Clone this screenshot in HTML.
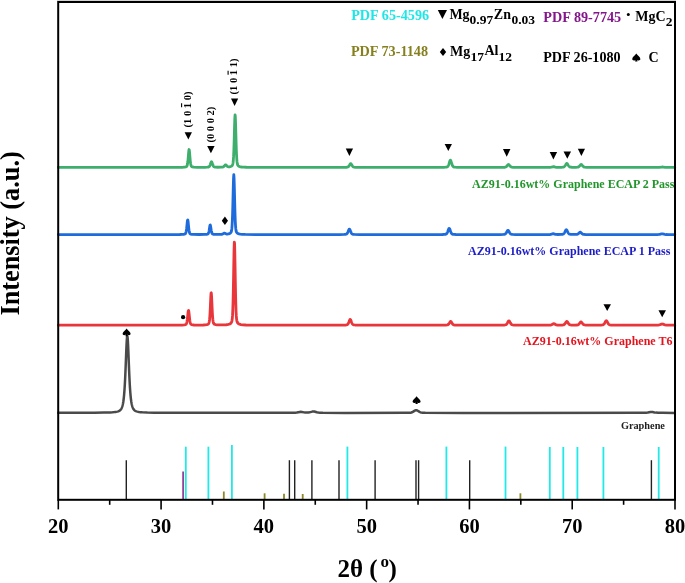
<!DOCTYPE html>
<html><head><meta charset="utf-8"><style>
html,body{margin:0;padding:0;background:#fff;width:685px;height:583px;overflow:hidden}
svg{display:block;will-change:transform}
</style></head><body>
<svg width="685" height="583" viewBox="0 0 685 583">
<g fill="none" stroke-width="2.8" stroke-linejoin="round" stroke-linecap="round">
<path d="M58.30,412.86 L80.55,412.82 L94.55,412.74 L104.05,412.61 L110.30,412.41 L112.55,412.27 L114.55,412.10 L116.05,411.89 L117.30,411.63 L118.30,411.32 L119.30,410.86 L120.05,410.33 L120.55,409.84 L121.05,409.20 L121.30,408.80 L121.55,408.33 L121.80,407.79 L122.05,407.15 L122.30,406.40 L122.55,405.52 L122.80,404.47 L123.05,403.23 L123.30,401.75 L123.55,399.99 L123.80,397.90 L124.05,395.41 L124.30,392.46 L124.55,389.00 L124.80,384.95 L125.05,380.29 L125.30,375.01 L125.55,369.16 L125.80,362.89 L126.05,356.43 L126.30,350.15 L126.55,344.49 L126.80,339.96 L127.05,337.02 L127.30,336.00 L127.55,337.02 L127.80,339.96 L128.05,344.49 L128.30,350.15 L128.55,356.43 L128.80,362.89 L129.05,369.16 L129.30,375.01 L129.55,380.29 L129.80,384.95 L130.05,389.00 L130.30,392.46 L130.55,395.41 L130.80,397.90 L131.05,399.99 L131.30,401.75 L131.55,403.23 L131.80,404.47 L132.05,405.52 L132.30,406.40 L132.55,407.15 L132.80,407.79 L133.05,408.33 L133.30,408.80 L133.80,409.54 L134.30,410.10 L134.80,410.53 L135.30,410.86 L135.80,411.12 L136.55,411.41 L137.30,411.63 L139.05,411.97 L140.55,412.15 L142.30,412.29 L147.30,412.52 L154.55,412.68 L164.80,412.78 L205.30,412.87 L285.55,412.87 L292.05,412.83 L295.05,412.73 L296.80,412.55 L299.80,411.95 L300.80,411.86 L301.80,411.94 L304.05,412.38 L305.05,412.52 L306.30,412.61 L307.55,412.60 L308.55,412.52 L309.55,412.35 L312.30,411.61 L313.30,411.47 L314.30,411.57 L316.80,412.28 L318.30,412.58 L320.05,412.74 L322.80,412.82 L345.30,412.89 L405.80,412.86 L409.55,412.78 L410.55,412.68 L411.30,412.53 L412.05,412.29 L412.80,411.93 L414.80,410.66 L415.30,410.40 L415.80,410.24 L416.30,410.20 L416.80,410.29 L417.30,410.50 L419.55,411.91 L420.05,412.16 L420.80,412.44 L421.55,412.63 L422.55,412.76 L425.30,412.85 L462.30,412.90 L639.05,412.87 L643.80,412.83 L646.05,412.73 L647.80,412.53 L650.55,411.98 L651.55,411.90 L652.55,411.99 L654.55,412.41 L655.80,412.62 L658.05,412.79 L662.55,412.86 L674.80,412.89" stroke="#4a4a4a" stroke-width="2.5"/><path d="M58.30,325.20 L170.05,325.17 L180.05,325.11 L182.55,325.04 L184.05,324.93 L185.05,324.77 L185.55,324.62 L185.80,324.49 L186.05,324.28 L186.30,323.95 L186.55,323.40 L186.80,322.54 L187.05,321.26 L187.30,319.50 L187.55,317.30 L187.80,314.84 L188.05,312.50 L188.30,310.83 L188.55,310.40 L188.80,311.38 L189.05,313.39 L189.55,318.22 L189.80,320.26 L190.05,321.82 L190.30,322.92 L190.55,323.64 L190.80,324.09 L191.05,324.36 L191.55,324.64 L192.55,324.86 L194.05,324.99 L196.05,325.05 L199.80,325.06 L203.30,324.99 L205.30,324.86 L206.80,324.64 L207.80,324.32 L208.30,324.01 L208.55,323.75 L208.80,323.35 L209.05,322.67 L209.30,321.54 L209.55,319.69 L209.80,316.84 L210.05,312.84 L210.30,307.76 L210.55,302.05 L210.80,296.71 L211.05,293.18 L211.30,292.83 L211.55,295.81 L211.80,300.91 L212.05,306.63 L212.30,311.90 L212.55,316.13 L212.80,319.19 L213.05,321.22 L213.30,322.48 L213.55,323.22 L213.80,323.67 L214.05,323.95 L214.55,324.27 L215.05,324.47 L215.55,324.60 L217.05,324.81 L219.55,324.93 L223.30,324.91 L226.30,324.75 L227.30,324.64 L228.30,324.47 L229.05,324.27 L229.80,323.97 L230.55,323.49 L231.05,322.98 L231.30,322.62 L231.55,322.14 L231.80,321.42 L232.05,320.28 L232.30,318.36 L232.55,315.13 L232.80,309.92 L233.05,302.05 L233.30,291.18 L233.55,277.67 L233.80,262.97 L234.05,249.86 L234.30,242.22 L234.55,243.12 L234.80,252.18 L235.05,265.90 L235.30,280.54 L235.55,293.59 L235.80,303.87 L236.05,311.16 L236.30,315.92 L236.55,318.83 L236.80,320.56 L237.05,321.60 L237.30,322.26 L237.55,322.71 L237.80,323.05 L238.05,323.32 L238.55,323.72 L239.05,324.01 L239.55,324.22 L240.80,324.55 L242.80,324.82 L245.80,324.99 L250.05,325.08 L256.80,325.14 L329.55,325.19 L340.30,325.16 L344.80,325.07 L346.05,324.98 L346.80,324.84 L347.30,324.62 L347.55,324.44 L347.80,324.19 L348.05,323.86 L348.30,323.43 L348.55,322.91 L348.80,322.30 L349.55,320.28 L349.80,319.76 L350.05,319.45 L350.30,319.42 L350.55,319.68 L350.80,320.16 L351.05,320.79 L351.55,322.17 L351.80,322.79 L352.05,323.33 L352.30,323.78 L352.55,324.13 L352.80,324.40 L353.05,324.59 L353.55,324.82 L354.30,324.97 L355.55,325.07 L357.80,325.13 L370.80,325.19 L427.05,325.19 L440.80,325.17 L445.80,325.10 L447.30,324.96 L447.80,324.82 L448.30,324.54 L448.55,324.32 L448.80,324.04 L449.05,323.70 L449.30,323.30 L450.05,321.98 L450.30,321.63 L450.55,321.43 L450.80,321.41 L451.05,321.58 L451.30,321.90 L452.30,323.62 L452.55,323.98 L452.80,324.27 L453.05,324.50 L453.30,324.67 L453.80,324.89 L454.80,325.05 L458.30,325.15 L466.55,325.19 L494.30,325.18 L502.80,325.11 L504.30,325.04 L505.05,324.96 L505.80,324.76 L506.30,324.46 L506.55,324.23 L506.80,323.94 L507.05,323.59 L507.30,323.18 L508.05,321.74 L508.30,321.31 L508.55,320.98 L508.80,320.81 L509.05,320.83 L509.30,321.04 L509.55,321.39 L510.30,322.81 L510.80,323.66 L511.05,324.00 L511.55,324.49 L512.05,324.78 L512.55,324.93 L514.05,325.07 L517.80,325.15 L525.30,325.18 L543.55,325.18 L549.55,325.12 L550.55,325.05 L551.30,324.90 L552.05,324.58 L553.30,323.80 L553.80,323.68 L554.30,323.80 L555.80,324.69 L556.30,324.88 L556.80,325.00 L557.55,325.07 L558.80,325.10 L562.30,325.04 L563.05,324.96 L563.55,324.85 L564.05,324.63 L564.30,324.46 L564.80,323.98 L565.05,323.65 L566.05,322.04 L566.30,321.69 L566.55,321.46 L566.80,321.38 L567.05,321.46 L567.30,321.69 L567.55,322.03 L568.55,323.65 L569.05,324.24 L569.30,324.46 L569.80,324.75 L570.30,324.91 L570.80,324.99 L572.55,325.07 L575.30,325.08 L576.80,325.02 L577.80,324.87 L578.30,324.67 L578.80,324.32 L579.30,323.79 L580.30,322.38 L580.55,322.10 L580.80,321.92 L581.05,321.88 L581.30,321.98 L581.55,322.21 L582.80,323.92 L583.30,324.41 L583.80,324.73 L584.55,324.96 L585.80,325.08 L588.55,325.14 L599.30,325.12 L601.30,325.06 L602.30,324.97 L603.05,324.80 L603.55,324.55 L604.05,324.09 L604.30,323.77 L604.55,323.39 L604.80,322.94 L605.55,321.47 L605.80,321.07 L606.05,320.79 L606.30,320.69 L606.55,320.79 L606.80,321.07 L607.05,321.47 L607.80,322.94 L608.05,323.39 L608.30,323.77 L608.55,324.09 L608.80,324.35 L609.30,324.70 L609.80,324.88 L611.05,325.05 L614.30,325.14 L621.30,325.18 L647.80,325.19 L656.55,325.15 L658.05,325.08 L659.05,324.94 L659.80,324.74 L661.55,324.09 L662.30,324.00 L663.05,324.15 L664.30,324.63 L665.05,324.87 L666.30,325.07 L668.55,325.16 L674.80,325.19" stroke="#e8363b"/><path d="M58.30,234.60 L170.80,234.58 L179.80,234.52 L182.05,234.45 L183.55,234.33 L184.55,234.15 L185.05,233.95 L185.30,233.77 L185.55,233.46 L185.80,232.95 L186.05,232.11 L186.30,230.82 L186.55,229.00 L186.80,226.69 L187.05,224.10 L187.30,221.68 L187.55,220.08 L187.80,219.91 L188.05,221.27 L188.30,223.58 L188.55,226.18 L188.80,228.57 L189.05,230.49 L189.30,231.89 L189.55,232.81 L189.80,233.38 L190.05,233.72 L190.30,233.92 L190.80,234.13 L191.80,234.32 L193.30,234.43 L199.05,234.52 L205.05,234.45 L206.55,234.35 L207.55,234.15 L207.80,234.03 L208.05,233.83 L208.30,233.49 L208.55,232.95 L208.80,232.11 L209.05,230.93 L209.30,229.43 L209.55,227.76 L209.80,226.18 L210.05,225.14 L210.30,225.04 L210.55,225.91 L210.80,227.42 L211.05,229.10 L211.30,230.65 L211.55,231.90 L211.80,232.80 L212.05,233.40 L212.30,233.76 L212.55,233.98 L212.80,234.11 L213.30,234.25 L213.80,234.32 L215.55,234.43 L218.80,234.45 L221.30,234.37 L222.05,234.26 L222.55,234.10 L223.05,233.84 L223.80,233.37 L224.30,233.18 L224.55,233.17 L224.80,233.24 L226.05,233.86 L226.80,234.04 L227.30,234.05 L228.05,233.98 L228.80,233.82 L229.30,233.66 L230.05,233.30 L230.55,232.91 L230.80,232.62 L231.05,232.22 L231.30,231.61 L231.55,230.60 L231.80,228.91 L232.05,226.09 L232.30,221.64 L232.55,215.15 L232.80,206.53 L233.05,196.33 L233.30,185.95 L233.55,177.77 L233.80,174.58 L234.05,177.77 L234.30,185.95 L234.55,196.33 L234.80,206.53 L235.05,215.15 L235.30,221.65 L235.55,226.10 L235.80,228.91 L236.05,230.61 L236.30,231.62 L236.55,232.23 L236.80,232.64 L237.05,232.92 L237.30,233.15 L238.05,233.59 L239.05,233.92 L240.30,234.15 L242.30,234.33 L245.30,234.45 L257.05,234.56 L330.05,234.59 L339.80,234.56 L344.05,234.47 L345.30,234.39 L346.05,234.24 L346.55,234.02 L346.80,233.84 L347.05,233.59 L347.30,233.25 L347.55,232.83 L347.80,232.32 L348.80,229.82 L349.05,229.36 L349.30,229.12 L349.55,229.15 L349.80,229.44 L350.05,229.94 L350.80,231.85 L351.05,232.43 L351.30,232.92 L351.55,233.33 L351.80,233.64 L352.05,233.88 L352.30,234.05 L352.80,234.26 L353.30,234.36 L354.30,234.45 L359.30,234.56 L372.55,234.59 L430.05,234.59 L442.55,234.50 L444.30,234.43 L445.30,234.33 L446.05,234.11 L446.55,233.77 L446.80,233.50 L447.05,233.14 L447.30,232.68 L447.55,232.11 L447.80,231.45 L448.55,229.26 L448.80,228.69 L449.05,228.36 L449.30,228.32 L449.55,228.60 L449.80,229.13 L450.05,229.81 L450.55,231.31 L450.80,231.99 L451.05,232.57 L451.30,233.06 L451.55,233.44 L451.80,233.73 L452.05,233.94 L452.30,234.09 L453.05,234.32 L454.05,234.43 L455.80,234.50 L464.55,234.58 L491.55,234.58 L500.05,234.54 L503.55,234.44 L504.30,234.34 L504.80,234.21 L505.30,233.95 L505.55,233.75 L505.80,233.49 L506.05,233.17 L506.30,232.79 L507.30,230.96 L507.55,230.59 L507.80,230.36 L508.05,230.30 L508.30,230.43 L508.55,230.72 L508.80,231.13 L509.55,232.54 L509.80,232.95 L510.05,233.31 L510.30,233.60 L510.55,233.83 L510.80,234.01 L511.30,234.24 L511.80,234.36 L512.55,234.44 L515.30,234.54 L521.05,234.58 L548.80,234.55 L550.05,234.49 L550.80,234.39 L551.55,234.18 L552.80,233.72 L553.30,233.68 L553.80,233.78 L555.30,234.31 L556.05,234.44 L557.80,234.51 L561.05,234.45 L562.05,234.38 L562.80,234.25 L563.30,234.04 L563.80,233.67 L564.05,233.39 L564.30,233.04 L564.55,232.62 L564.80,232.14 L565.55,230.53 L565.80,230.09 L566.05,229.79 L566.30,229.68 L566.55,229.79 L566.80,230.09 L567.05,230.53 L567.80,232.13 L568.05,232.62 L568.30,233.04 L568.55,233.38 L568.80,233.66 L569.30,234.04 L569.80,234.24 L570.55,234.37 L571.55,234.44 L575.55,234.47 L576.55,234.41 L577.30,234.27 L577.80,234.07 L578.30,233.74 L578.80,233.27 L579.55,232.50 L579.80,232.31 L580.05,232.20 L580.30,232.19 L580.55,232.28 L580.80,232.46 L582.05,233.71 L582.30,233.90 L582.80,234.18 L583.30,234.34 L583.80,234.43 L585.30,234.52 L599.30,234.59 L655.80,234.58 L657.55,234.54 L658.80,234.45 L659.80,234.29 L661.30,233.96 L662.05,233.90 L662.80,233.98 L664.80,234.40 L666.05,234.52 L668.30,234.58 L674.80,234.59" stroke="#1e6bdc"/><path d="M58.30,167.40 L171.80,167.37 L181.05,167.30 L183.30,167.23 L184.80,167.10 L185.80,166.91 L186.30,166.71 L186.55,166.54 L186.80,166.27 L187.05,165.82 L187.30,165.06 L187.55,163.84 L187.80,162.03 L188.05,159.58 L188.30,156.60 L188.55,153.47 L188.80,150.83 L189.05,149.52 L189.30,150.10 L189.55,152.31 L189.80,155.34 L190.05,158.43 L190.30,161.12 L190.55,163.19 L190.80,164.63 L191.05,165.55 L191.30,166.12 L191.55,166.45 L191.80,166.65 L192.05,166.78 L192.80,166.99 L193.80,167.13 L197.05,167.28 L201.05,167.32 L205.05,167.29 L207.05,167.22 L208.30,167.09 L208.80,166.92 L209.05,166.77 L209.30,166.55 L209.55,166.23 L209.80,165.80 L210.05,165.23 L210.30,164.55 L210.80,163.02 L211.05,162.33 L211.30,161.87 L211.55,161.76 L211.80,162.02 L212.05,162.58 L212.80,164.83 L213.05,165.47 L213.30,165.98 L213.55,166.36 L213.80,166.64 L214.05,166.83 L214.55,167.04 L215.55,167.17 L217.80,167.25 L221.05,167.22 L222.55,167.10 L223.30,166.87 L223.80,166.55 L224.30,166.04 L225.05,165.13 L225.30,164.91 L225.55,164.80 L225.80,164.84 L226.05,165.00 L227.05,166.10 L227.30,166.33 L227.55,166.51 L228.05,166.74 L228.55,166.83 L229.05,166.83 L229.80,166.74 L230.55,166.56 L231.30,166.26 L231.80,165.93 L232.05,165.70 L232.30,165.37 L232.55,164.88 L232.80,164.09 L233.05,162.75 L233.30,160.50 L233.55,156.92 L233.80,151.59 L234.05,144.38 L234.30,135.63 L234.55,126.41 L234.80,118.64 L235.05,114.79 L235.30,116.50 L235.55,122.99 L235.80,131.91 L236.05,141.03 L236.30,148.94 L236.55,155.03 L236.80,159.27 L237.05,162.00 L237.30,163.65 L237.55,164.63 L237.80,165.22 L238.05,165.61 L238.30,165.88 L238.55,166.08 L239.30,166.49 L240.30,166.79 L241.55,167.00 L243.55,167.16 L246.55,167.27 L257.80,167.36 L330.30,167.39 L340.80,167.37 L345.30,167.31 L346.55,167.26 L347.30,167.16 L347.80,167.02 L348.30,166.74 L348.55,166.52 L348.80,166.24 L349.05,165.90 L349.30,165.50 L350.05,164.18 L350.30,163.83 L350.55,163.63 L350.80,163.61 L351.05,163.78 L351.30,164.10 L352.30,165.82 L352.55,166.18 L352.80,166.47 L353.05,166.70 L353.55,167.00 L354.05,167.15 L355.55,167.29 L358.55,167.36 L364.05,167.38 L403.55,167.40 L435.05,167.38 L443.80,167.29 L445.55,167.20 L446.55,167.08 L447.05,166.94 L447.30,166.81 L447.55,166.64 L447.80,166.40 L448.05,166.07 L448.30,165.64 L448.55,165.09 L448.80,164.41 L449.05,163.64 L449.55,161.93 L449.80,161.15 L450.05,160.54 L450.30,160.23 L450.55,160.26 L450.80,160.65 L451.05,161.29 L451.80,163.80 L452.05,164.56 L452.30,165.21 L452.55,165.74 L452.80,166.15 L453.05,166.46 L453.30,166.68 L453.55,166.84 L454.30,167.09 L455.30,167.21 L457.05,167.29 L464.05,167.37 L483.80,167.39 L499.05,167.37 L504.05,167.29 L504.80,167.23 L505.30,167.13 L505.80,166.96 L506.05,166.82 L506.30,166.65 L506.80,166.18 L507.80,164.94 L508.05,164.69 L508.30,164.54 L508.55,164.50 L508.80,164.59 L509.05,164.78 L510.30,166.29 L510.55,166.53 L511.05,166.88 L511.80,167.16 L513.05,167.29 L516.05,167.36 L521.80,167.38 L549.05,167.36 L550.30,167.31 L551.05,167.23 L551.80,167.06 L552.80,166.76 L553.30,166.68 L553.80,166.71 L555.30,167.13 L556.30,167.28 L558.30,167.33 L561.55,167.28 L562.55,167.22 L563.30,167.11 L563.80,166.94 L564.30,166.64 L564.80,166.12 L565.05,165.78 L565.30,165.39 L566.05,164.08 L566.30,163.72 L566.55,163.47 L566.80,163.38 L567.05,163.47 L567.30,163.72 L567.55,164.08 L568.30,165.38 L568.55,165.78 L568.80,166.12 L569.30,166.63 L569.80,166.94 L570.30,167.10 L570.80,167.18 L571.80,167.26 L576.05,167.28 L577.30,167.22 L578.05,167.10 L578.55,166.91 L579.05,166.59 L579.55,166.10 L580.55,164.87 L580.80,164.64 L581.05,164.51 L581.30,164.49 L581.55,164.61 L581.80,164.82 L583.05,166.33 L583.30,166.56 L583.80,166.90 L584.30,167.10 L584.80,167.20 L586.30,167.31 L590.05,167.36 L598.30,167.39 L656.05,167.39 L659.05,167.33 L661.80,167.04 L662.55,167.00 L663.30,167.05 L665.30,167.28 L666.55,167.36 L674.80,167.40" stroke="#3dae6c"/>
</g>
<g><line x1="185.8" y1="446.7" x2="185.8" y2="499.5" stroke="#22e8e8" stroke-width="1.8"/><line x1="208.4" y1="446.7" x2="208.4" y2="499.5" stroke="#22e8e8" stroke-width="1.8"/><line x1="231.9" y1="445.0" x2="231.9" y2="499.5" stroke="#22e8e8" stroke-width="1.8"/><line x1="347.4" y1="446.6" x2="347.4" y2="499.5" stroke="#22e8e8" stroke-width="1.8"/><line x1="446.4" y1="446.6" x2="446.4" y2="499.5" stroke="#22e8e8" stroke-width="1.8"/><line x1="505.5" y1="446.6" x2="505.5" y2="499.5" stroke="#22e8e8" stroke-width="1.8"/><line x1="549.8" y1="447.0" x2="549.8" y2="499.5" stroke="#22e8e8" stroke-width="1.8"/><line x1="563.3" y1="447.0" x2="563.3" y2="499.5" stroke="#22e8e8" stroke-width="1.8"/><line x1="577.4" y1="447.0" x2="577.4" y2="499.5" stroke="#22e8e8" stroke-width="1.8"/><line x1="603.4" y1="447.0" x2="603.4" y2="499.5" stroke="#22e8e8" stroke-width="1.8"/><line x1="658.7" y1="447.0" x2="658.7" y2="499.5" stroke="#22e8e8" stroke-width="1.8"/><line x1="223.8" y1="491.5" x2="223.8" y2="499.5" stroke="#8e8628" stroke-width="1.8"/><line x1="264.6" y1="493.3" x2="264.6" y2="499.5" stroke="#8e8628" stroke-width="1.8"/><line x1="284.0" y1="493.7" x2="284.0" y2="499.5" stroke="#8e8628" stroke-width="1.8"/><line x1="302.7" y1="494.0" x2="302.7" y2="499.5" stroke="#8e8628" stroke-width="1.8"/><line x1="520.4" y1="493.3" x2="520.4" y2="499.5" stroke="#8e8628" stroke-width="1.8"/><line x1="183.1" y1="471.5" x2="183.1" y2="499.5" stroke="#8a2a8e" stroke-width="1.6"/><line x1="126.3" y1="460.2" x2="126.3" y2="499.5" stroke="#222222" stroke-width="1.4"/><line x1="289.4" y1="460.2" x2="289.4" y2="499.5" stroke="#222222" stroke-width="1.4"/><line x1="294.7" y1="460.2" x2="294.7" y2="499.5" stroke="#222222" stroke-width="1.4"/><line x1="311.9" y1="460.2" x2="311.9" y2="499.5" stroke="#222222" stroke-width="1.4"/><line x1="339.0" y1="460.2" x2="339.0" y2="499.5" stroke="#222222" stroke-width="1.4"/><line x1="375.1" y1="460.2" x2="375.1" y2="499.5" stroke="#222222" stroke-width="1.4"/><line x1="416.0" y1="460.2" x2="416.0" y2="499.5" stroke="#222222" stroke-width="1.4"/><line x1="418.6" y1="460.2" x2="418.6" y2="499.5" stroke="#222222" stroke-width="1.4"/><line x1="469.7" y1="460.2" x2="469.7" y2="499.5" stroke="#222222" stroke-width="1.4"/><line x1="651.4" y1="460.2" x2="651.4" y2="499.5" stroke="#222222" stroke-width="1.4"/></g>
<g fill="#000"><polygon points="184.65,132.30 191.95,132.30 188.30,139.50"/><polygon points="207.20,146.10 214.60,146.10 210.90,153.30"/><polygon points="231.00,98.40 238.20,98.40 234.60,106.00"/><polygon points="345.75,148.50 353.05,148.50 349.40,156.10"/><polygon points="444.65,143.90 451.95,143.90 448.30,150.90"/><polygon points="502.95,149.10 510.45,149.10 506.70,156.70"/><polygon points="549.70,151.90 557.10,151.90 553.40,159.40"/><polygon points="563.55,151.40 571.05,151.40 567.30,158.80"/><polygon points="577.80,148.70 585.00,148.70 581.40,155.90"/><polygon points="603.45,304.30 610.95,304.30 607.20,311.10"/><polygon points="658.45,310.20 665.95,310.20 662.20,317.20"/><polygon points="437.80,10.10 447.00,10.10 442.40,19.10"/><path transform="translate(126.60,328.40) scale(1.000)" d="M0,0 C-1.4,2.1 -4,3.4 -4,5.3 C-4,6.8 -2.2,7.2 -0.8,6.2 L-1.2,7.8 L1.2,7.8 L0.8,6.2 C2.2,7.2 4,6.8 4,5.3 C4,3.4 1.4,2.1 0,0 Z"/><path transform="translate(416.60,396.20) scale(1.000)" d="M0,0 C-1.4,2.1 -4,3.4 -4,5.3 C-4,6.8 -2.2,7.2 -0.8,6.2 L-1.2,7.8 L1.2,7.8 L0.8,6.2 C2.2,7.2 4,6.8 4,5.3 C4,3.4 1.4,2.1 0,0 Z"/><path transform="translate(636.30,53.60) scale(1.013)" d="M0,0 C-1.4,2.1 -4,3.4 -4,5.3 C-4,6.8 -2.2,7.2 -0.8,6.2 L-1.2,7.8 L1.2,7.8 L0.8,6.2 C2.2,7.2 4,6.8 4,5.3 C4,3.4 1.4,2.1 0,0 Z"/><polygon points="224.9,216.6 228.0,220.8 224.9,225.0 221.8,220.8"/><polygon points="443.0,48.1 446.2,52.0 443.0,55.9 439.8,52.0"/><circle cx="183.1" cy="317.2" r="2.1"/><circle cx="628.3" cy="14.6" r="1.5"/></g>
<g><line x1="58.30" y1="499.8" x2="58.30" y2="509.40000000000003" stroke="#000" stroke-width="1.6"/><line x1="109.69" y1="499.8" x2="109.69" y2="504.8" stroke="#000" stroke-width="1.6"/><line x1="161.08" y1="499.8" x2="161.08" y2="509.40000000000003" stroke="#000" stroke-width="1.6"/><line x1="212.48" y1="499.8" x2="212.48" y2="504.8" stroke="#000" stroke-width="1.6"/><line x1="263.87" y1="499.8" x2="263.87" y2="509.40000000000003" stroke="#000" stroke-width="1.6"/><line x1="315.26" y1="499.8" x2="315.26" y2="504.8" stroke="#000" stroke-width="1.6"/><line x1="366.65" y1="499.8" x2="366.65" y2="509.40000000000003" stroke="#000" stroke-width="1.6"/><line x1="418.04" y1="499.8" x2="418.04" y2="504.8" stroke="#000" stroke-width="1.6"/><line x1="469.43" y1="499.8" x2="469.43" y2="509.40000000000003" stroke="#000" stroke-width="1.6"/><line x1="520.83" y1="499.8" x2="520.83" y2="504.8" stroke="#000" stroke-width="1.6"/><line x1="572.22" y1="499.8" x2="572.22" y2="509.40000000000003" stroke="#000" stroke-width="1.6"/><line x1="623.61" y1="499.8" x2="623.61" y2="504.8" stroke="#000" stroke-width="1.6"/><line x1="675.00" y1="499.8" x2="675.00" y2="509.40000000000003" stroke="#000" stroke-width="1.6"/></g>
<rect x="57" y="0" width="619" height="1" fill="#d4d4d4"/>
<rect x="58.2" y="2.0" width="616.8" height="497.8" fill="none" stroke="#000" stroke-width="2"/>
<g font-family="Liberation Serif" font-weight="bold" fill="#000">
<text x="58.30" y="532.6" text-anchor="middle" font-size="20.5">20</text><text x="161.08" y="532.6" text-anchor="middle" font-size="20.5">30</text><text x="263.87" y="532.6" text-anchor="middle" font-size="20.5">40</text><text x="366.65" y="532.6" text-anchor="middle" font-size="20.5">50</text><text x="469.43" y="532.6" text-anchor="middle" font-size="20.5">60</text><text x="572.22" y="532.6" text-anchor="middle" font-size="20.5">70</text><text x="675.00" y="532.6" text-anchor="middle" font-size="20.5">80</text>
<text x="337.5" y="576.5" font-size="25">2θ (<tspan x="380.4" y="566.8" font-size="17">o</tspan><tspan x="388.4" y="576.5">)</tspan></text>
<text transform="translate(19.3,315.6) rotate(-90)" font-size="26.3">Intensity (a.u.)</text>
<text transform="translate(191.2,127.4) rotate(-90)" font-size="10.5">(1 0 1 0)</text>
<line x1="181.6" y1="103.2" x2="181.6" y2="107.2" stroke="#000" stroke-width="1.1"/>
<text transform="translate(214.4,142.6) rotate(-90)" font-size="10.5">(0 0 0 2)</text>
<text transform="translate(237.4,94.4) rotate(-90)" font-size="10.5">(1 0 1 1)</text>
<line x1="228.1" y1="70.8" x2="228.1" y2="74.8" stroke="#000" stroke-width="1.1"/>
<text x="472" y="187.8" font-size="12" fill="#21962a">AZ91-0.16wt% Graphene ECAP 2 Pass</text>
<text x="468" y="255" font-size="12" fill="#1c1cc8">AZ91-0.16wt% Graphene ECAP 1 Pass</text>
<text x="523" y="344.5" font-size="12" fill="#e3141e">AZ91-0.16wt% Graphene T6</text>
<text x="620.9" y="429" font-size="10.3" fill="#222">Graphene</text>
<text x="351.2" y="19.5" font-size="14.2" fill="#1ee6e6">PDF 65-4596</text>
<text x="543.3" y="21.6" font-size="14.2" fill="#84168a">PDF 89-7745</text>
<text x="350.9" y="56.2" font-size="14.2" fill="#867f1e">PDF 73-1148</text>
<text x="543.2" y="62" font-size="14.1">PDF 26-1080</text>
<text x="648.5" y="62" font-size="14">C</text>
<text x="449.4" y="19.1" font-size="14">Mg<tspan x="469.6" y="24.4" font-size="13.5">0.97</tspan><tspan x="493.8" y="18.5" font-size="14">Zn</tspan><tspan x="511.4" y="24.4" font-size="13.5">0.03</tspan></text>
<text x="635.2" y="21" font-size="14">MgC<tspan x="665.8" y="26.2" font-size="13.5">2</tspan></text>
<text x="450" y="55.9" font-size="14">Mg<tspan x="470.6" y="60.6" font-size="13.5">17</tspan><tspan x="484.4" y="54.9" font-size="14">Al</tspan><tspan x="498.4" y="60.6" font-size="13.5">12</tspan></text>
</g>
</svg>
</body></html>
